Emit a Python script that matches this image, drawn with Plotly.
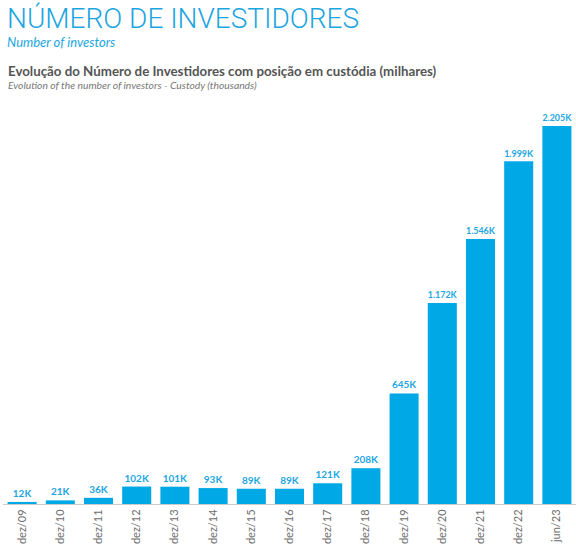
import plotly.graph_objects as go

categories = ["dez/09", "dez/10", "dez/11", "dez/12", "dez/13", "dez/14", "dez/15", "dez/16",
              "dez/17", "dez/18", "dez/19", "dez/20", "dez/21", "dez/22", "jun/23"]
values = [12, 21, 36, 102, 101, 93, 89, 89, 121, 208, 645, 1172, 1546, 1999, 2205]
value_labels = ["12K", "21K", "36K", "102K", "101K", "93K", "89K", "89K", "121K", "208K",
                "645K", "1.172K", "1.546K", "1.999K", "2.205K"]

BLUE = "#00a8e6"
fig = go.Figure(go.Bar(
    x=categories, y=values, text=value_labels, textposition="outside",
    textfont=dict(family="Lato, sans-serif", size=10, color="#1ba6e2", weight="bold"),
    marker=dict(color=BLUE, line=dict(width=0)), width=0.76, cliponaxis=False,
))

fig.update_layout(
    width=576, height=549,
    margin=dict(l=3, r=0, t=100, b=45, autoexpand=False),
    paper_bgcolor="white", plot_bgcolor="white",
    showlegend=False,
    xaxis=dict(tickangle=-90, automargin=False,
               tickfont=dict(family="Lato, sans-serif", size=11, color="#6e6e6e"),
               showline=True, linecolor="#cccccc", linewidth=1, ticks="", showgrid=False),
    yaxis=dict(range=[0, 2357], visible=False, showgrid=False, automargin=False),
    annotations=[
        dict(text="NÚMERO DE INVESTIDORES", x=0, y=1, xref="paper", yref="paper", xanchor="left",
             yanchor="top", yshift=100, xshift=2, showarrow=False,
             font=dict(family="Roboto, sans-serif", size=28, color="#1ca6e0", weight=300)),
        dict(text="<i>Number of investors</i>", x=0, y=1, xref="paper", yref="paper", xanchor="left",
             yanchor="top", yshift=68, xshift=2, showarrow=False,
             font=dict(family="Lato, sans-serif", size=13, color="#1ca6e0")),
        dict(text="<b>Evolução do Número de Investidores com posição em custódia (milhares)</b>",
             x=0, y=1, xref="paper", yref="paper", xanchor="left", yanchor="top",
             yshift=39, xshift=3, showarrow=False,
             font=dict(family="Lato, sans-serif", size=13.3, color="#555555")),
        dict(text="<i>Evolution of the number of investors - Custody (thousands)</i>",
             x=0, y=1, xref="paper", yref="paper", xanchor="left", yanchor="top",
             yshift=23, xshift=3, showarrow=False,
             font=dict(family="Lato, sans-serif", size=10.3, color="#777777")),
    ],
)

fig.write_html("out.html", config={"displayModeBar": False},
               post_script="document.body.style.margin='0';document.body.style.overflow='hidden';")
